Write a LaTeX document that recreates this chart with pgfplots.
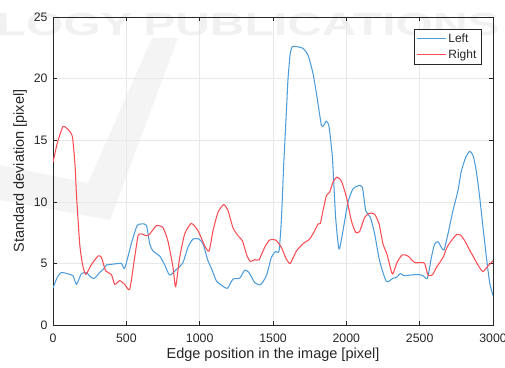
\documentclass[border=0pt]{standalone}
\usepackage{pgfplots}
\pgfplotsset{compat=1.18}
\usepackage{fontspec}
\setmainfont{Liberation Sans}
\definecolor{cblue}{rgb}{0.30,0.61,0.86}
\definecolor{cred}{rgb}{0.98,0.30,0.32}
\definecolor{axgray}{rgb}{0.15,0.15,0.15}
\begin{document}
\begin{tikzpicture}[x=1bp,y=1bp]
\path[use as bounding box] (-53,-42) rectangle (452,325);
\clip (-53,-42) rectangle (452,325);
% faint watermark
\fill[gray!9] (-53,160) -- (35,142) -- (99,287) -- (125,287) -- (57,105) -- (-53,125) -- cycle;
\node[overlay, text=gray!11, font=\fontsize{32bp}{36bp}\selectfont\bfseries, anchor=base east, xscale=1.5, inner sep=0pt] at (80,290) {TECHNOLOGY};
\node[overlay, text=gray!11, font=\fontsize{32bp}{36bp}\selectfont\bfseries, anchor=base west, xscale=1.5, inner sep=0pt] at (90,290) {PUBLICATIONS};
\begin{axis}[
  scale only axis,
  width=440bp, height=308bp,
  xmin=0, xmax=3000, ymin=0, ymax=25,
  xtick={0,500,...,3000}, ytick={0,5,...,25},
  tick align=inside,
  major tick length=4bp,
  xtick pos=both, ytick pos=both,
  grid=major,
  major grid style={gray!18, line width=0.5pt},
  axis line style={axgray, line width=0.6pt},
  tick style={axgray, line width=0.5pt},
  /pgf/number format/assume math mode=true,
  /pgf/number format/1000 sep={},
  ticklabel style={font=\fontsize{12.3bp}{14bp}\selectfont, text=axgray},
  xticklabel style={yshift=-5bp},
  yticklabel style={xshift=-2bp},
  label style={font=\fontsize{14.5bp}{16bp}\selectfont, text=axgray},
  xlabel={Edge position in the image [pixel]},
  ylabel={Standard deviation [pixel]},
  xlabel style={at={(axis description cs:0.5,-0.097)}, anchor=center},
  ylabel style={at={(axis description cs:-0.075,0.5)}, anchor=center},
  legend style={at={(0.973,0.961)}, anchor=north east, draw=axgray, line width=0.5pt,
    font=\fontsize{12bp}{14bp}\selectfont, text=axgray, inner sep=2.5bp, row sep=1.5bp, fill=white},
  legend cell align=left,
  legend image code/.code={\draw[#1, line width=1pt] (0bp,0bp) -- (29bp,0bp);},
]
\addplot[cblue, line width=1.05pt, line join=round, smooth, tension=0.35] coordinates {
(0,3.0) (30,3.9) (57,4.26) (102,4.15) (136,4.0) (160,3.3) (193,4.15) (227,4.26) (262,3.85) (285,3.8) (318,4.26) (341,4.5) (364,4.86) (409,4.94) (466,5.0) (489,4.6) (534,6.6) (573,8.06) (602,8.2) (637,8.1) (659,6.6) (682,6.0) (727,5.6) (761,4.9) (795,4.05) (841,4.5) (886,5.07) (920,6.3) (955,6.98) (995,6.98) (1023,6.57) (1057,5.2) (1080,4.6) (1114,3.58) (1148,3.23) (1189,2.98) (1227,3.72) (1273,3.8) (1307,4.45) (1336,4.26) (1375,3.45) (1414,3.26) (1455,4.0) (1489,5.5) (1518,5.97) (1541,6.0) (1557,8.5) (1573,13.0) (1590,17.0) (1602,19.9) (1617,22.0) (1632,22.6) (1659,22.6) (1705,22.45) (1739,21.9) (1773,20.4) (1800,18.5) (1830,16.2) (1845,16.2) (1864,16.55) (1882,16.1) (1905,13.6) (1927,8.74) (1950,6.16) (1977,7.65) (2011,9.96) (2045,11.05) (2080,11.3) (2109,11.2) (2132,9.28) (2164,8.74) (2193,7.4) (2227,5.2) (2273,3.53) (2318,3.8) (2341,3.85) (2368,4.18) (2391,4.0) (2432,4.05) (2489,4.1) (2523,4.0) (2553,3.8) (2580,5.5) (2602,6.57) (2625,6.76) (2648,6.3) (2666,6.08) (2693,7.4) (2727,9.28) (2761,10.9) (2784,12.5) (2814,13.6) (2841,14.1) (2864,13.76) (2886,12.5) (2909,10.4) (2932,7.9) (2955,5.5) (2977,3.45) (3000,2.4)
};
\addlegendentry{Left}
\addplot[cred, line width=1.05pt, line join=round, smooth, tension=0.35] coordinates {
(0,13.2) (30,14.8) (68,16.1) (100,15.9) (132,15.3) (150,13.0) (160,10.6) (182,6.6) (200,5.0) (223,4.1) (262,4.9) (307,5.6) (330,5.5) (359,4.4) (398,4.1) (421,3.3) (455,3.6) (489,3.3) (523,2.9) (557,5.5) (580,7.25) (602,7.4) (648,7.25) (705,8.06) (750,7.9) (784,6.8) (818,4.7) (836,3.1) (864,5.5) (898,7.4) (943,8.25) (989,7.65) (1034,6.43) (1064,6.0) (1091,7.65) (1125,9.15) (1164,9.77) (1193,9.3) (1227,7.9) (1261,7.25) (1291,6.84) (1323,5.6) (1346,5.15) (1375,5.3) (1405,5.3) (1443,6.3) (1477,6.9) (1518,6.9) (1557,6.3) (1591,5.35) (1618,5.0) (1659,6.0) (1705,6.6) (1750,6.98) (1784,7.65) (1807,8.2) (1823,8.25) (1841,9.28) (1864,10.5) (1886,10.77) (1909,11.6) (1936,12.0) (1966,11.7) (2000,10.4) (2034,8.47) (2064,7.52) (2091,7.6) (2125,8.74) (2159,9.07) (2193,9.0) (2223,8.2) (2250,6.57) (2277,5.76) (2314,4.13) (2345,5.07) (2382,5.7) (2420,5.6) (2466,5.07) (2512,5.07) (2534,5.0) (2557,4.05) (2587,4.07) (2614,4.67) (2648,5.27) (2664,5.6) (2686,6.3) (2716,6.84) (2750,7.33) (2778,7.3) (2807,6.84) (2841,6.08) (2875,5.35) (2905,4.72) (2932,4.34) (2966,4.8) (3000,5.2)
};
\addlegendentry{Right}
\end{axis}
\end{tikzpicture}
\end{document}
